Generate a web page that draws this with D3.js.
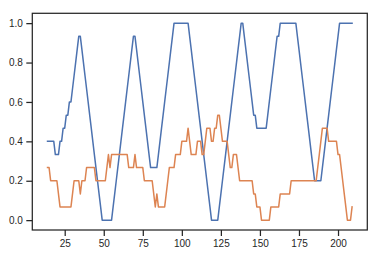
<!DOCTYPE html>
<html>
<head>
<meta charset="utf-8">
<script src="https://cdn.jsdelivr.net/npm/d3@7"></script>
<style>
  html, body { margin: 0; padding: 0; background: #ffffff; }
  svg { display: block; }
  .tick text { font-family: "Liberation Sans", Arial, "DejaVu Sans", sans-serif; font-size: 10px; fill: #262626; }
</style>
</head>
<body>
<svg id="chart" width="380" height="257"></svg>
<script>
// ---- data ----
const xIndex = [14,15,16,17,18,19,20,21,22,23,24,25,26,27,28,29,30,31,32,33,34,35,36,37,38,39,40,41,42,43,44,45,46,47,48,49,50,51,52,53,54,55,56,57,58,59,60,61,62,63,64,65,66,67,68,69,70,71,72,73,74,75,76,77,78,79,80,81,82,83,84,85,86,87,88,89,90,91,92,93,94,95,96,97,98,99,100,101,102,103,104,105,106,107,108,109,110,111,112,113,114,115,116,117,118,119,120,121,122,123,124,125,126,127,128,129,130,131,132,133,134,135,136,137,138,139,140,141,142,143,144,145,146,147,148,149,150,151,152,153,154,155,156,157,158,159,160,161,162,163,164,165,166,167,168,169,170,171,172,173,174,175,176,177,178,179,180,181,182,183,184,185,186,187,188,189,190,191,192,193,194,195,196,197,198,199,200,201,202,203,204,205,206,207,208,209];

const blueSeries = [
  .4,.4,.4,.4,.4,.333,.333,.333,.4,.4,
  .467,.467,.533,.533,.6,.6,.667,.733,.8,.867,
  .933,.933,.867,.8,.733,.667,.6,.533,.467,.4,
  .333,.267,.2,.133,.067,0,0,0,0,0,
  0,0,.067,.133,.2,.267,.333,.4,.467,.533,
  .6,.667,.733,.8,.867,.933,.933,.867,.8,.733,
  .667,.6,.533,.467,.4,.333,.267,.267,.267,.267,
  .267,.333,.4,.467,.533,.6,.667,.733,.8,.867,
  .933,1,1,1,1,1,1,1,1,1,
  1,.933,.867,.8,.733,.667,.6,.533,.467,.4,
  .333,.267,.2,.133,.067,0,0,0,0,0,
  .067,.133,.2,.267,.333,.4,.467,.533,.6,.667,
  .733,.8,.867,.933,1,1,.933,.867,.8,.733,
  .667,.6,.533,.533,.467,.467,.467,.467,.467,.467,
  .467,.533,.6,.667,.733,.8,.867,.933,.933,1,
  1,1,1,1,1,1,1,1,1,1,
  .933,.867,.8,.733,.667,.6,.533,.467,.4,.333,
  .267,.2,.2,.2,.2,.2,.267,.333,.4,.467,
  .533,.6,.667,.733,.8,.867,.933,1,1,1,
  1,1,1,1,1,1
];

const orangeSeries = [
  .267,.267,.2,.2,.2,.2,.2,.133,.067,.067,
  .067,.067,.067,.067,.067,.067,.133,.2,.2,.2,
  .2,.133,.2,.2,.2,.267,.267,.267,.267,.267,
  .267,.2,.2,.2,.2,.2,.2,.2,.267,.333,
  .267,.333,.333,.333,.333,.333,.333,.333,.333,.333,
  .333,.333,.267,.267,.267,.267,.333,.267,.267,.267,
  .267,.267,.2,.2,.2,.2,.2,.2,.133,.067,
  .133,.067,.067,.067,.067,.067,.133,.2,.267,.267,
  .267,.267,.333,.333,.333,.333,.4,.4,.4,.4,
  .467,.4,.333,.333,.333,.333,.4,.4,.4,.333,
  .333,.4,.467,.467,.467,.4,.4,.467,.467,.533,
  .533,.467,.4,.4,.4,.4,.333,.267,.267,.333,
  .333,.333,.267,.2,.2,.2,.2,.2,.2,.2,
  .2,.2,.133,.133,.067,.067,.067,0,0,0,
  0,0,0,.067,.067,.067,.067,.067,.067,.133,
  .133,.133,.133,.133,.133,.133,.2,.2,.2,.2,
  .2,.2,.2,.2,.2,.2,.2,.2,.2,.2,
  .2,.2,.2,.267,.333,.4,.467,.467,.467,.467,
  .4,.4,.4,.4,.4,.4,.333,.333,.267,.2,
  .133,.067,0,0,0,.067
];

const xTickValues = [25, 50, 75, 100, 125, 150, 175, 200];
const xTickLabels = ["25", "50", "75", "100", "125", "150", "175", "200"];
const yTickValues = [0, 0.2, 0.4, 0.6, 0.8, 1.0];
const yTickLabels = ["0.0", "0.2", "0.4", "0.6", "0.8", "1.0"];

const seriesColors = ["#4C72B0", "#DD8452"];

// ---- layout ----
const svg = d3.select("#chart");
const W = 380, H = 257;
const plot = { left: 32.3, top: 13.3, right: 367.3, bottom: 230 };
const ink = "#262626";

svg.append("rect").attr("width", W).attr("height", H).attr("fill", "#ffffff");

// matplotlib-style 5% margins
const xMin = d3.min(xIndex), xMax = d3.max(xIndex);
const xPad = (xMax - xMin) * 0.05;
const x = d3.scaleLinear().domain([xMin - xPad, xMax + xPad]).range([plot.left, plot.right]);
const y = d3.scaleLinear().domain([-0.05, 1.05]).range([plot.bottom, plot.top]);

// lines
const line = d3.line()
  .x((d, i) => x(xIndex[i]))
  .y(d => y(d));

[blueSeries, orangeSeries].forEach((s, k) => {
  svg.append("path")
    .datum(s)
    .attr("d", line)
    .attr("fill", "none")
    .attr("stroke", seriesColors[k])
    .attr("stroke-width", 1.5)
    .attr("stroke-linejoin", "round")
    .attr("stroke-linecap", "square");
});

// axes
const xAxis = d3.axisBottom(x)
  .tickValues(xTickValues)
  .tickFormat((d, i) => xTickLabels[i])
  .tickSize(6).tickPadding(3.5).tickSizeOuter(0);
const yAxis = d3.axisLeft(y)
  .tickValues(yTickValues)
  .tickFormat((d, i) => yTickLabels[i])
  .tickSize(6).tickPadding(3.5).tickSizeOuter(0);

const gx = svg.append("g").attr("transform", `translate(0,${plot.bottom})`).call(xAxis);
const gy = svg.append("g").attr("transform", `translate(${plot.left},0)`).call(yAxis);
[gx, gy].forEach(g => {
  g.select(".domain").remove();
  g.selectAll(".tick line").attr("stroke", ink).attr("stroke-width", 1.25);
});

// frame (all four spines)
svg.append("rect")
  .attr("x", plot.left).attr("y", plot.top)
  .attr("width", plot.right - plot.left).attr("height", plot.bottom - plot.top)
  .attr("fill", "none").attr("stroke", ink).attr("stroke-width", 1.25);
</script>
</body>
</html>
